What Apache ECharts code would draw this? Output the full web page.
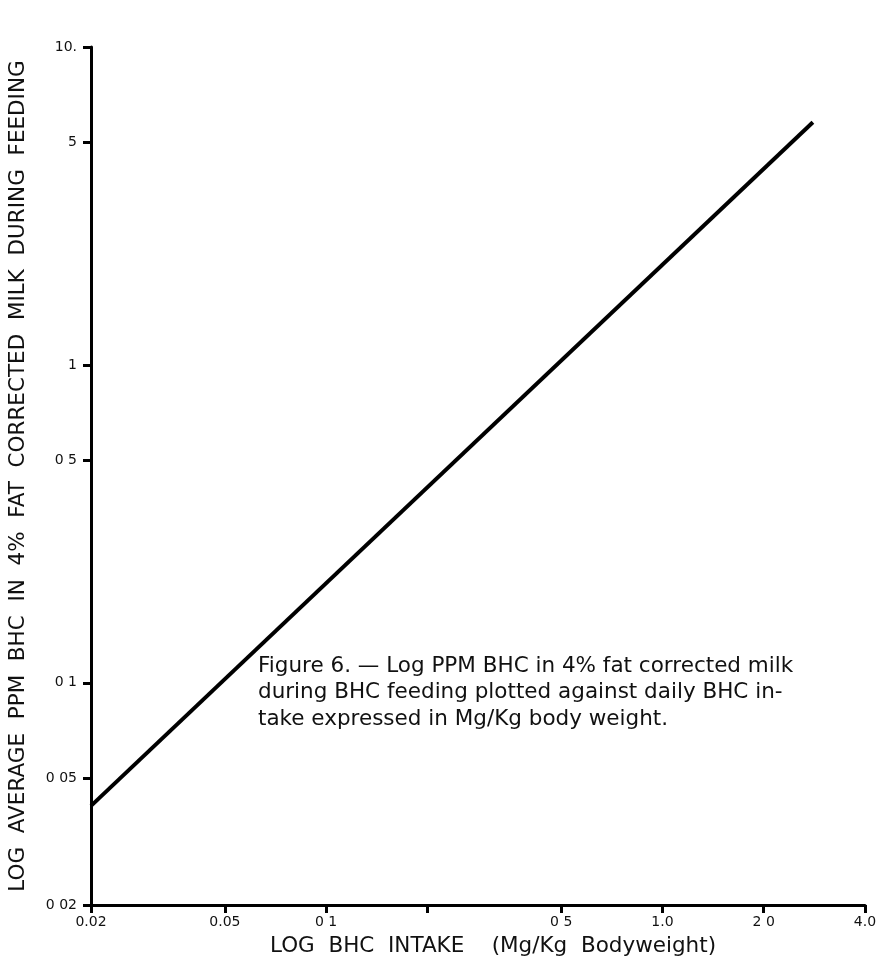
<!DOCTYPE html>
<html>
<head>
<meta charset="utf-8">
<script src="https://cdn.jsdelivr.net/npm/echarts@6/dist/echarts.min.js"></script>
<style>
html,body{margin:0;padding:0;background:#fff;}
#chart{width:880px;height:971px;}
</style>
</head>
<body>
<div id="chart"></div>
<script>
// Data (log-log straight line)
const intake = [0.02, 2.8];          // mg/kg body weight
const milkPPM = [0.041, 5.8];        // ppm BHC in 4% FCM

// Tick values and their printed labels
const xTickValues = [0.02, 0.05, 0.1, 0.2, 0.5, 1, 2, 4];
const xTickLabels = ['0.02', '0.05', '0 1', '', '0 5', '1.0', '2 0', '4.0'];
const yTickValues = [0.02, 0.05, 0.1, 0.5, 1, 5, 10];
const yTickLabels = ['0 02', '0 05', '0 1', '0 5', '1', '5', '10.'];

const xTitle = 'LOG  BHC  INTAKE    (Mg/Kg  Bodyweight)';
const yTitle = 'LOG  AVERAGE  PPM  BHC  IN  4%  FAT  CORRECTED  MILK  DURING  FEEDING';
const caption = [
  'Figure 6. \u2014 Log PPM BHC in 4% fat corrected milk',
  'during BHC feeding plotted against daily BHC in-',
  'take expressed in Mg/Kg body weight.'
];

const FONT = '"DejaVu Sans", Verdana, sans-serif';

function labelFor(values, labels) {
  return function (v) {
    for (let i = 0; i < values.length; i++) {
      if (Math.abs(Math.log10(v) - Math.log10(values[i])) < 1e-6) return labels[i];
    }
    return '';
  };
}

const chart = echarts.init(document.getElementById('chart'), null, {renderer: 'canvas'});
chart.setOption({
  animation: false,
  backgroundColor: '#fff',
  grid: {left: 91, right: 15, top: 47, bottom: 66, containLabel: false, outerBoundsMode: 'none'},
  xAxis: {
    type: 'log',
    logBase: 10,
    min: 0.02,
    max: 4,
    name: xTitle,
    nameLocation: 'middle',
    nameGap: 30,
    nameTextStyle: {fontFamily: FONT, fontSize: 21.5, color: '#111', padding: [0, 0, 0, 30]},
    axisLine: {show: true, onZero: false, lineStyle: {color: '#000', width: 3}},
    axisTick: {show: true, inside: false, length: 8, lineStyle: {color: '#000', width: 3}, customValues: xTickValues},
    axisLabel: {
      show: true, margin: 10, fontFamily: FONT, fontSize: 14, color: '#111',
      customValues: xTickValues,
      formatter: labelFor(xTickValues, xTickLabels),
      showMinLabel: true, showMaxLabel: true, hideOverlap: false
    },
    splitLine: {show: false},
    minorTick: {show: false}
  },
  yAxis: {
    type: 'log',
    logBase: 10,
    min: 0.02,
    max: 10,
    name: yTitle,
    nameLocation: 'middle',
    nameGap: 62,
    nameRotate: 90,
    nameTextStyle: {fontFamily: FONT, fontSize: 21.5, color: '#111'},
    axisLine: {show: true, onZero: false, lineStyle: {color: '#000', width: 3}},
    axisTick: {show: true, inside: false, length: 8, lineStyle: {color: '#000', width: 3}, customValues: yTickValues},
    axisLabel: {
      show: true, margin: 14, fontFamily: FONT, fontSize: 14, color: '#111',
      customValues: yTickValues,
      formatter: labelFor(yTickValues, yTickLabels),
      showMinLabel: true, showMaxLabel: true, hideOverlap: false
    },
    splitLine: {show: false},
    minorTick: {show: false}
  },
  graphic: [{
    type: 'text',
    left: 258,
    top: 653,
    style: {
      text: caption.join('\n'),
      fontFamily: FONT,
      fontSize: 21.5,
      lineHeight: 26.5,
      fill: '#111'
    }
  }],
  series: [{
    type: 'line',
    data: intake.map((x, i) => [x, milkPPM[i]]),
    showSymbol: false,
    lineStyle: {color: '#000', width: 4},
    clip: false
  }]
});
</script>
</body>
</html>
